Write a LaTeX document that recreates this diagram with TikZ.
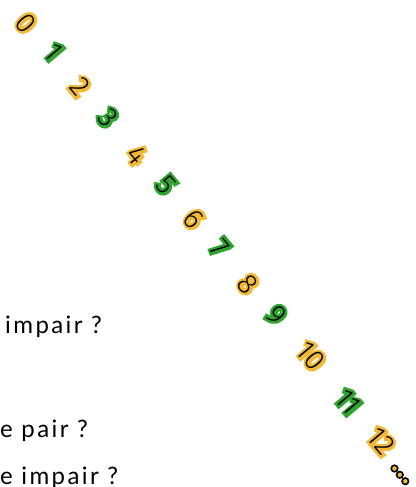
\documentclass[tikz,border=0pt]{standalone}
\usepackage{fontspec}
\setmainfont{Lato}[LetterSpace=10]
\newfontfamily\digthick{Fira Sans}[FakeBold=17]
\newfontfamily\digthin{Fira Sans}[UprightFont={* Light}]
\definecolor{dorange}{HTML}{F2B935}
\definecolor{dgreen}{HTML}{2FA52F}
\tikzset{
  num/.style={rotate=-50, inner sep=0pt},
  numfill/.style={num, font=\digthick\fontsize{28.5}{28.5}\selectfont},
  numline/.style={num, text=black, font=\digthin\fontsize{28.5}{28.5}\selectfont},
  question/.style={anchor=base west, inner sep=0pt, font=\fontsize{24}{24}\selectfont, text=black},
  dot/.style={circle, draw=black, fill=dorange, line width=1.6pt, minimum size=6.5pt, inner sep=0pt},
}
\newcommand\dignum[4]{%
  \node[numfill, text=#3] (#1) at (#2) {#4};
  \node[numline] (#1l) at (#1.center) {#4};
}
\begin{document}
\begin{tikzpicture}[x=1pt,y=-1pt]
\useasboundingbox (0,0) rectangle (415,487);
\dignum{n0}{26,23}{dorange}{0}
\dignum{n1}{54,52}{dgreen}{1}
\dignum{n2}{80,87}{dorange}{2}
\dignum{n3}{108,118}{dgreen}{3}
\dignum{n4}{137,155}{dorange}{4}
\dignum{n5}{166,185}{dgreen}{5}
\dignum{n6}{194,219}{dorange}{6}
\dignum{n7}{220,248}{dgreen}{7}
\dignum{n8}{248,284}{dorange}{8}
\dignum{n9}{276,315}{dgreen}{9}
\dignum{n10}{311,356}{dorange}{10}
\dignum{n11}{348,402}{dgreen}{11}
\dignum{n12}{381,441}{dorange}{12}
\node[dot] (d1) at (394.5,468.5) {};
\node[dot] (d2) at (399.8,474.8) {};
\node[dot] (d3) at (405.3,481.2) {};
\node[question] (q1) at (5,333) {impair ?};
\node[question] (q2) at (0,437) {e pair ?};
\node[question] (q3) at (0,484) {e impair ?};
\end{tikzpicture}
\end{document}
